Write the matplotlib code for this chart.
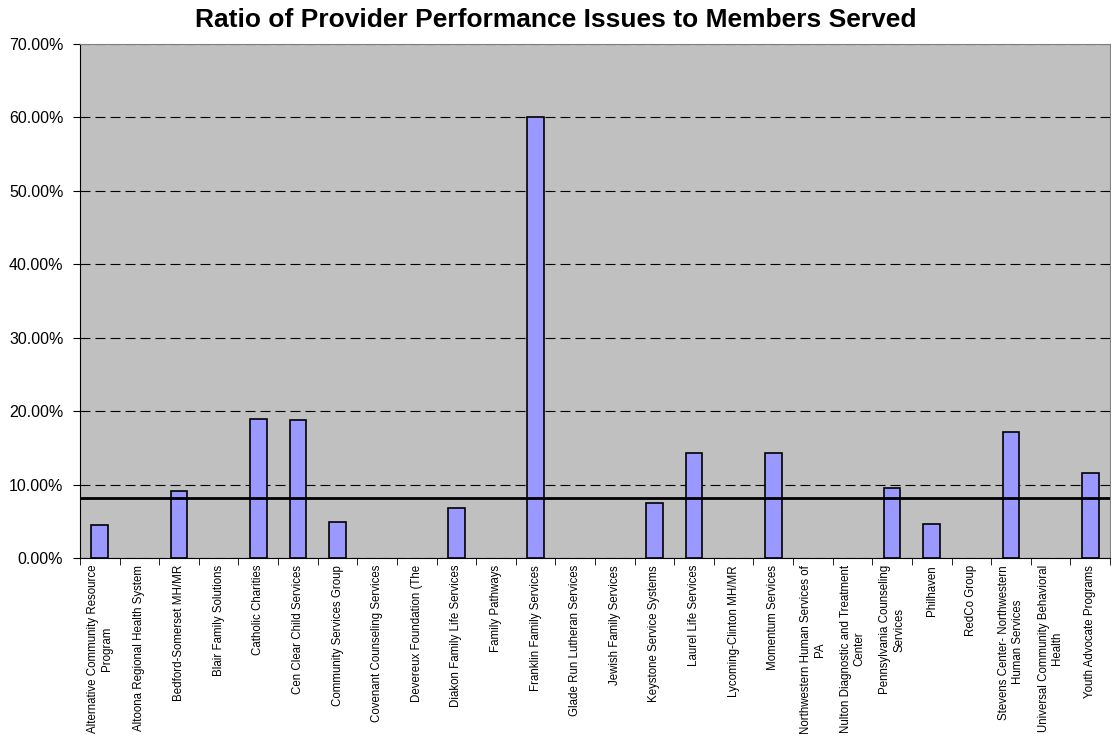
import numpy as np
import matplotlib.pyplot as plt
from matplotlib.ticker import PercentFormatter

# provider names (line breaks as wrapped in the original chart)
providers = [
    "Alternative Community Resource\nProgram",
    "Altoona Regional Health System",
    "Bedford-Somerset MH/MR",
    "Blair Family Solutions",
    "Catholic Charities",
    "Cen Clear Child Services",
    "Community Services Group",
    "Covenant Counseling Services",
    "Devereux Foundation (The",
    "Diakon Family Life Services",
    "Family Pathways",
    "Franklin Family Services",
    "Glade Run Lutheran Services",
    "Jewish Family Services",
    "Keystone Service Systems",
    "Laurel Life Services",
    "Lycoming-Clinton MH/MR",
    "Momentum Services",
    "Northwestern Human Services of\nPA",
    "Nulton Diagnostic and Treatment\nCenter",
    "Pennsylvania Counseling\nServices",
    "Philhaven",
    "RedCo Group",
    "Stevens Center- Northwestern\nHuman Services",
    "Universal Community Behavioral\nHealth",
    "Youth Advocate Programs",
]

# ratio of issues to members served (fraction)
ratio = [0.045, 0.0, 0.091, 0.0, 0.189, 0.188, 0.049, 0.0, 0.0, 0.068,
         0.0, 0.600, 0.0, 0.0, 0.075, 0.143, 0.0, 0.143, 0.0, 0.0,
         0.096, 0.046, 0.0, 0.172, 0.0, 0.116]

# overall average line
average = 0.082

plt.rcParams['font.family'] = ['Liberation Sans', 'DejaVu Sans']

fig = plt.figure(figsize=(11.11, 7.37), dpi=100)
ax = fig.add_axes([80 / 1111, 1 - 558 / 737, 1030 / 1111, 514 / 737])
ax.set_facecolor('#C0C0C0')

x = np.arange(len(providers))
# zero-height bars get no outline, as in the original
edges = ['black' if v > 0 else 'none' for v in ratio]
ax.bar(x, ratio, width=0.42, color='#9999FF', edgecolor=edges, linewidth=1.2, zorder=3)
ax.axhline(average, color='black', linewidth=2, zorder=4)

ax.set_xlim(-0.5, len(providers) - 0.5)
ax.set_ylim(0, 0.70)
ax.set_yticks(np.arange(0, 0.71, 0.10))
ax.yaxis.set_major_formatter(PercentFormatter(1.0, decimals=2))
ax.yaxis.grid(True, linestyle=(0, (9, 4.5)), color='black', linewidth=0.8, zorder=1)
ax.tick_params(axis='y', labelsize=11.5, length=5, direction='out', pad=7)

ax.set_xticks(x)
ax.set_xticklabels(providers, rotation=90, fontsize=8.3, ha='center', va='top',
                   multialignment='center')
ax.tick_params(axis='x', length=0, pad=5)
ax.set_xticks(np.arange(-0.5, len(providers), 1.0), minor=True)
ax.tick_params(axis='x', which='minor', length=5, direction='out')

for side in ['left', 'bottom']:
    ax.spines[side].set_color('black')
for side in ['top', 'right']:
    ax.spines[side].set_color('#808080')

fig.text(0.5, 1 - 20 / 737, 'Ratio of Provider Performance Issues to Members Served',
         ha='center', va='center', fontsize=19, fontweight='bold')

fig.savefig('out.png', dpi=100)
